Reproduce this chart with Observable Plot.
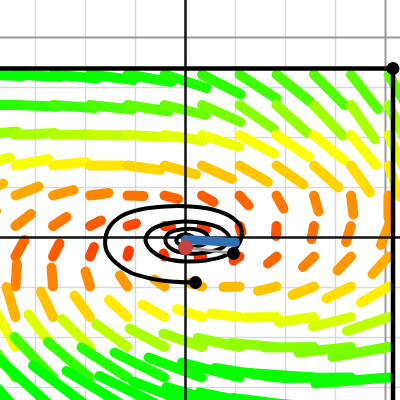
<!DOCTYPE html>
<html><head><meta charset="utf-8">
<script src="https://cdn.jsdelivr.net/npm/d3@7"></script>
<script src="https://cdn.jsdelivr.net/npm/@observablehq/plot@0.6"></script>
<style>html,body{margin:0;padding:0;background:#fff;overflow:hidden}</style>
</head><body>
<script>
// direction-field sample points
const gridX = [-4.15,-3.4,-2.65,-1.91,-1.16,-0.42,0.33,1.08,1.82,2.57,3.31,4.06];
const gridY = [3.26,2.65,2.05,1.44,0.84,0.23,-0.38,-0.98,-1.59,-2.19,-2.8,-3.41];
// drawn field vector components (rows = gridY, cols = gridX)
const fieldU = [
 [0.88,0.88,0.88,0.87,0.87,0.84,0.78,0.74,0.68,0.62,0.54,0.44],
 [0.84,0.84,0.84,0.84,0.83,0.82,0.77,0.69,0.62,0.57,0.48,0.36],
 [0.78,0.78,0.78,0.78,0.78,0.77,0.74,0.69,0.65,0.60,0.50,0.33],
 [0.64,0.65,0.66,0.66,0.65,0.63,0.60,0.57,0.54,0.49,0.38,0.23],
 [0.50,0.46,0.41,0.37,0.32,0.27,0.23,0.18,0.14,0.09,0.05,0.00],
 [0.36,0.31,0.27,0.22,0.17,0.13,0.08,0.04,-0.01,-0.05,-0.10,-0.15],
 [0.23,0.18,0.13,0.08,0.03,-0.02,-0.07,-0.12,-0.17,-0.22,-0.27,-0.32],
 [0.08,0.03,-0.03,-0.09,-0.15,-0.20,-0.26,-0.32,-0.37,-0.43,-0.49,-0.55],
 [-0.11,-0.18,-0.24,-0.31,-0.37,-0.44,-0.50,-0.57,-0.63,-0.70,-0.76,-0.83],
 [-0.34,-0.42,-0.49,-0.56,-0.63,-0.70,-0.77,-0.84,-0.91,-0.98,-1.05,-1.12],
 [-0.62,-0.69,-0.77,-0.84,-0.92,-1.00,-1.07,-1.15,-1.23,-1.30,-1.38,-1.46],
 [-0.90,-0.98,-1.06,-1.14,-1.22,-1.30,-1.38,-1.46,-1.54,-1.62,-1.70,-1.78]
];
const fieldV = [
 [-0.03,-0.05,-0.08,-0.11,-0.15,-0.27,-0.40,-0.48,-0.55,-0.62,-0.69,-0.76],
 [0.00,-0.03,-0.06,-0.09,-0.13,-0.20,-0.34,-0.48,-0.56,-0.61,-0.69,-0.76],
 [0.07,0.04,0.01,-0.01,-0.04,-0.11,-0.24,-0.37,-0.44,-0.50,-0.60,-0.71],
 [0.16,0.13,0.07,0.00,-0.09,-0.18,-0.27,-0.33,-0.38,-0.44,-0.54,-0.62],
 [0.24,0.18,0.11,0.05,-0.01,-0.07,-0.13,-0.20,-0.26,-0.32,-0.38,-0.44],
 [0.30,0.24,0.18,0.11,0.05,-0.01,-0.07,-0.13,-0.20,-0.26,-0.32,-0.38],
 [0.39,0.33,0.26,0.19,0.12,0.06,-0.01,-0.08,-0.14,-0.21,-0.28,-0.35],
 [0.53,0.45,0.38,0.30,0.22,0.14,0.07,-0.01,-0.09,-0.17,-0.24,-0.32],
 [0.69,0.60,0.51,0.43,0.34,0.25,0.16,0.07,-0.01,-0.10,-0.19,-0.28],
 [0.85,0.75,0.65,0.56,0.46,0.37,0.27,0.18,0.08,-0.01,-0.11,-0.20],
 [1.02,0.91,0.81,0.71,0.60,0.50,0.40,0.30,0.19,0.09,-0.01,-0.12],
 [1.18,1.07,0.96,0.85,0.74,0.64,0.53,0.42,0.31,0.20,0.09,-0.02]
];
// speed value per sample (drives the red→green colour)
const speed = [
 [120,120,120,118,116,113,110,105,102,100,98,96],
 [112,110,106,102,98,95,92,88,85,82,80,80],
 [84,80,77,74,70,67,64,61,60,60,62,66],
 [64,62,58,54,50,48,46,47,48,50,52,55],
 [44,40,36,32,27,23,22,24,28,32,34,36],
 [36,33,28,22,17,14,13,15,20,26,32,37],
 [28,25,21,17,14,12,12,16,24,31,36,41],
 [32,30,31,33,36,39,42,44,46,48,52,56],
 [44,42,46,50,55,58,60,62,64,66,70,76],
 [64,64,68,72,76,80,82,84,86,88,90,92],
 [98,100,104,108,112,115,117,118,118,118,117,116],
 [120,120,120,120,120,120,120,120,120,120,120,120]
];
// spiral trajectory
const spiralX = [0.2,-0.3,-0.7,-1.1,-1.4,-1.58,-1.6,-1.5,-1.26,-0.9,-0.4,0.1,0.54,0.9,1.1,1.12,1.02,0.8,0.4,0,-0.4,-0.68,-0.8,-0.7,-0.44,-0.04,0.4,0.74,0.88,0.74,0.4,0.06,-0.26,-0.4,-0.34,-0.1,0.22,0.44,0.42,0.22,-0.02,-0.18,-0.14,0.04,0.18,0.06,-0.04];
const spiralY = [-0.9,-0.88,-0.82,-0.7,-0.5,-0.26,0,0.24,0.44,0.56,0.62,0.62,0.56,0.42,0.22,0,-0.2,-0.36,-0.46,-0.48,-0.42,-0.26,-0.06,0.14,0.26,0.32,0.28,0.16,-0.02,-0.2,-0.3,-0.32,-0.24,-0.08,0.08,0.16,0.16,0.04,-0.1,-0.18,-0.18,-0.08,0.02,0.06,-0.02,-0.1,-0.06];
// boundary box (top and right edges visible)
const boxX = [-4.15, 4.15, 4.15];
const boxY = [3.38, 3.38, -3.38];
// points
const blackPtX = [4.15, 0.96, 0.2];
const blackPtY = [3.38, -0.32, -0.9];
const redPtX = [0];
const redPtY = [-0.2];
const blueX = [0.0, 1.0];
const blueY = [-0.04, -0.1];
const grayX = [0.0, 0.96];
const grayY = [-0.2, -0.32];
// grid
const minorTicks = [-3,-2,-1,1,2,3];
const majorTicks = [4];

const field = [];
gridY.forEach((y, j) => gridX.forEach((x, i) => field.push({x, y, u: fieldU[j][i], v: fieldV[j][i], s: speed[j][i]})));
const spiral = spiralX.map((x, i) => ({x, y: spiralY[i]}));
const box = boxX.map((x, i) => ({x, y: boxY[i]}));
const blackPts = blackPtX.map((x, i) => ({x, y: blackPtY[i]}));
const redPts = redPtX.map((x, i) => ({x, y: redPtY[i]}));
const blue = blueX.map((x, i) => ({x, y: blueY[i]}));
const gray = grayX.map((x, i) => ({x, y: grayY[i]}));

const hue = d3.scaleLinear().domain([10, 120])
  .range(["hsl(10,100%,50%)", "hsl(120,100%,50%)"]).interpolate(d3.interpolateHsl).clamp(true);

const chart = Plot.plot({
  width: 400, height: 400, margin: 0,
  x: {domain: [-3.7, 4.3], axis: null},
  y: {domain: [-3.26, 4.74], axis: null},
  marks: [
    Plot.ruleX(minorTicks, {stroke: "#d9d9d9", strokeWidth: 1.5}),
    Plot.ruleY(minorTicks, {stroke: "#d9d9d9", strokeWidth: 1.5}),
    Plot.ruleX(majorTicks, {stroke: "#9a9a9a", strokeWidth: 2}),
    Plot.ruleY(majorTicks, {stroke: "#9a9a9a", strokeWidth: 2}),
    Plot.link(field, {x1: "x", y1: "y", x2: d => d.x + d.u, y2: d => d.y + d.v,
      stroke: d => hue(d.s), strokeWidth: 10, strokeLinecap: "round"}),
    Plot.ruleX([0], {stroke: "#111", strokeWidth: 2.5}),
    Plot.ruleY([0], {stroke: "#111", strokeWidth: 2.5}),
    Plot.line(box, {x: "x", y: "y", stroke: "#000", strokeWidth: 4.5}),
    Plot.line(spiral, {x: "x", y: "y", stroke: "#000", strokeWidth: 4, curve: "catmull-rom"}),
    Plot.line(gray, {x: "x", y: "y", stroke: "#9a9a9a", strokeWidth: 3}),
    Plot.line(blue, {x: "x", y: "y", stroke: "#2d70b3", strokeWidth: 9, strokeLinecap: "round"}),
    Plot.dot(redPts, {x: "x", y: "y", r: 7.5, fill: "#c74440"}),
    Plot.dot(blackPts, {x: "x", y: "y", r: 6.5, fill: "#000"})
  ]
});
document.body.appendChild(chart);
</script>
</body></html>
